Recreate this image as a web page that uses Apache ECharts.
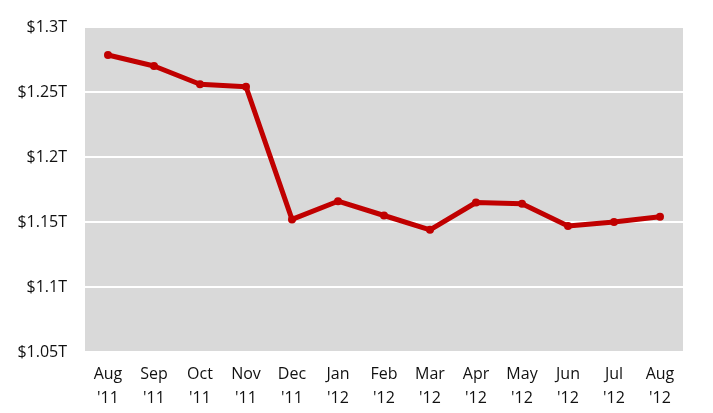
<!DOCTYPE html>
<html><head><meta charset="utf-8">
<script src="https://cdn.jsdelivr.net/npm/echarts@6/dist/echarts.min.js"></script>
<style>html,body{margin:0;padding:0;background:#fff}#c{width:713px;height:413px}</style>
</head><body><div id="c"></div>
<script>
const categories = ["Aug\n'11","Sep\n'11","Oct\n'11","Nov\n'11","Dec\n'11","Jan\n'12","Feb\n'12","Mar\n'12","Apr\n'12","May\n'12","Jun\n'12","Jul\n'12","Aug\n'12"];
const values = [1.2785,1.270,1.256,1.254,1.152,1.166,1.155,1.144,1.165,1.164,1.147,1.150,1.154];
const yTicks = {min:1.05, max:1.3, interval:0.05};
const chart = echarts.init(document.getElementById('c'));
chart.setOption({
  animation:false,
  grid:{left:85,right:30,top:27,bottom:61,show:true,backgroundColor:'#d9d9d9',borderWidth:0},
  xAxis:{type:'category',data:categories,boundaryGap:true,
    axisLine:{show:false},axisTick:{show:false},
    axisLabel:{color:'#111',fontSize:16,fontFamily:'Open Sans',lineHeight:24,margin:10}},
  yAxis:{type:'value',min:yTicks.min,max:yTicks.max,interval:yTicks.interval,
    axisLine:{show:false},axisTick:{show:false},
    splitLine:{lineStyle:{color:'#fff',width:2}},
    axisLabel:{color:'#111',fontSize:16,fontFamily:'Open Sans',margin:18,
      formatter:v=>'$'+(+v.toFixed(2))+'T'}},
  series:[{type:'line',data:values,symbol:'circle',symbolSize:8,
    lineStyle:{color:'#c00000',width:5},itemStyle:{color:'#c00000'}}]
});
</script></body></html>
